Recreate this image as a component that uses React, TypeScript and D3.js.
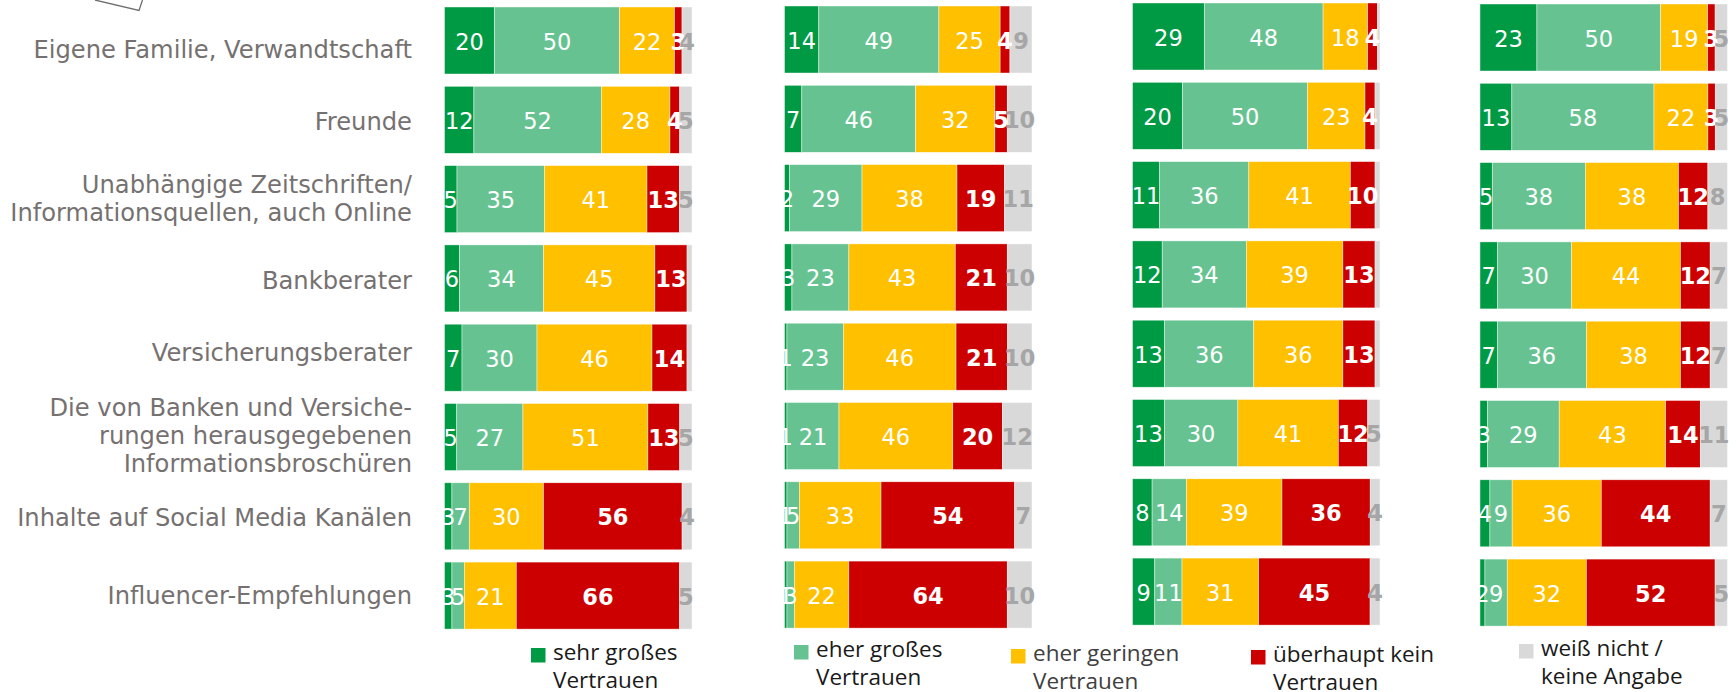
import React from "react";
import * as d3 from "d3";

// ---------- DATA ----------
const categories = [
  "Eigene Familie, Verwandtschaft",
  "Freunde",
  "Unabhängige Zeitschriften/\nInformationsquellen, auch Online",
  "Bankberater",
  "Versicherungsberater",
  "Die von Banken und Versiche-\nrungen herausgegebenen\nInformationsbroschüren",
  "Inhalte auf Social Media Kanälen",
  "Influencer-Empfehlungen",
];

const seriesNames = [
  "sehr großes\nVertrauen",
  "eher großes\nVertrauen",
  "eher geringen\nVertrauen",
  "überhaupt kein\nVertrauen",
  "weiß nicht /\nkeine Angabe",
];

const seriesColors = ["#009A44", "#66C391", "#FFC000", "#CC0000", "#D9D9D9"];

// rows: [sehr großes, eher großes, eher geringen, überhaupt kein, weiß nicht]
const panel1 = [
  [20, 50, 22, 3, 4],
  [12, 52, 28, 4, 5],
  [5, 35, 41, 13, 5],
  [6, 34, 45, 13, 2],
  [7, 30, 46, 14, 2],
  [5, 27, 51, 13, 5],
  [3, 7, 30, 56, 4],
  [3, 5, 21, 66, 5],
];
const panel2 = [
  [14, 49, 25, 4, 9],
  [7, 46, 32, 5, 10],
  [2, 29, 38, 19, 11],
  [3, 23, 43, 21, 10],
  [1, 23, 46, 21, 10],
  [1, 21, 46, 20, 12],
  [1, 5, 33, 54, 7],
  [1, 3, 22, 64, 10],
];
const panel3 = [
  [29, 48, 18, 4, 1],
  [20, 50, 23, 4, 2],
  [11, 36, 41, 10, 2],
  [12, 34, 39, 13, 2],
  [13, 36, 36, 13, 2],
  [13, 30, 41, 12, 5],
  [8, 14, 39, 36, 4],
  [9, 11, 31, 45, 4],
];
const panel4 = [
  [23, 50, 19, 3, 5],
  [13, 58, 22, 3, 5],
  [5, 38, 38, 12, 8],
  [7, 30, 44, 12, 7],
  [7, 36, 38, 12, 7],
  [3, 29, 43, 14, 11],
  [4, 9, 36, 44, 7],
  [2, 9, 32, 52, 5],
];

// ---------- LAYOUT ----------
const W = 1736;
const H = 692;
const panels = [panel1, panel2, panel3, panel4];
const panelX = [444.5, 784.5, 1132.5, 1480];
const panelYShift = [0, -1, -4, -3];
const panelW = 247.5;
const rowsTop = 7;
const rowsSpan = 622.1;
const labelRight = 412;
const labelNudge = [8.5, 2, -0.5, 2, -5, -1.5, 1.5, 0];
const legendX = [531, 794, 1011, 1251, 1519];
const legendBase = [660, 657, 661, 662, 656];

const valueFont = "'DejaVu Sans', Verdana, sans-serif";
const legendFont = "'Open Sans', 'Noto Sans', sans-serif";

export default function App() {
  const rowIdx = d3.range(categories.length);
  const keys = d3.range(seriesNames.length);

  const makeY = (shift: number) =>
    d3
      .scaleBand<number>()
      .domain(rowIdx)
      .range([rowsTop + shift, rowsTop + shift + rowsSpan])
      .paddingInner(0.155)
      .paddingOuter(0);

  const yLabel = makeY(0);

  return (
    <svg
      width={W}
      height={H}
      viewBox={`0 0 ${W} ${H}`}
      style={{ position: "absolute", left: 0, top: 0, background: "#fff" }}
    >
      {/* decorative corner */}
      <path
        d={d3.line()([
          [95, 0],
          [139, 10.5],
          [142.5, 0],
        ]) as string}
        fill="none"
        stroke="#6e6e6e"
        strokeWidth={1.3}
      />

      {/* category labels */}
      {categories.map((c, i) => {
        const lines = c.split("\n");
        const center = (yLabel(i) as number) + yLabel.bandwidth() / 2;
        const base = center + 8.5 + labelNudge[i];
        return (
          <text
            key={"cat" + i}
            textAnchor="end"
            fontFamily={valueFont}
            fontSize={24.2}
            fill="#767171"
          >
            {lines.map((l, j) => (
              <tspan key={j} x={labelRight} y={base + (j - (lines.length - 1) / 2) * 28.3}>
                {l}
              </tspan>
            ))}
          </text>
        );
      })}

      {/* panels */}
      {panels.map((rows, p) => {
        const y = makeY(panelYShift[p]);
        const x = d3.scaleLinear().domain([0, 1]).range([panelX[p], panelX[p] + panelW]);
        const stacked = d3
          .stack<number[], number>()
          .keys(keys)
          .value((d, k) => d[k])
          .offset(d3.stackOffsetExpand)(rows);
        return (
          <g key={"p" + p}>
            {stacked.map((layer, s) => (
              <g key={"s" + s}>
                {layer.map((seg, r) => (
                  <rect
                    key={r}
                    x={x(seg[0])}
                    y={y(r)}
                    width={Math.max(0, x(seg[1]) - x(seg[0]))}
                    height={y.bandwidth()}
                    fill={seriesColors[s]}
                    stroke="#ffffff"
                    strokeWidth={0.6}
                    strokeOpacity={0.7}
                  />
                ))}
              </g>
            ))}
            {stacked.map((layer, s) => (
              <g key={"l" + s}>
                {layer.map((seg, r) => {
                  const v = rows[r][s];
                  if (s === 4 && v < 3) return null;
                  const cx = (x(seg[0]) + x(seg[1])) / 2;
                  const cy = (y(r) as number) + y.bandwidth() / 2;
                  return (
                    <text
                      key={r}
                      x={cx}
                      y={cy + 9}
                      textAnchor="middle"
                      fontFamily={valueFont}
                      fontSize={22.5}
                      fontWeight={s >= 3 ? "bold" : "normal"}
                      fill={s === 4 ? "#A6A6A6" : "#ffffff"}
                    >
                      {v}
                    </text>
                  );
                })}
              </g>
            ))}
          </g>
        );
      })}

      {/* legend */}
      {seriesNames.map((n, i) => {
        const lines = n.split("\n");
        return (
          <g key={"lg" + i}>
            <rect
              x={legendX[i]}
              y={legendBase[i] - 12}
              width={14.5}
              height={14.5}
              fill={seriesColors[i]}
            />
            <text
              fontFamily={legendFont}
              fontSize={22.5}
              fill={i === 2 ? "#404040" : "#1a1a1a"}
            >
              {lines.map((l, j) => (
                <tspan key={j} x={legendX[i] + 22} y={legendBase[i] + j * 28}>
                  {l}
                </tspan>
              ))}
            </text>
          </g>
        );
      })}
    </svg>
  );
}
